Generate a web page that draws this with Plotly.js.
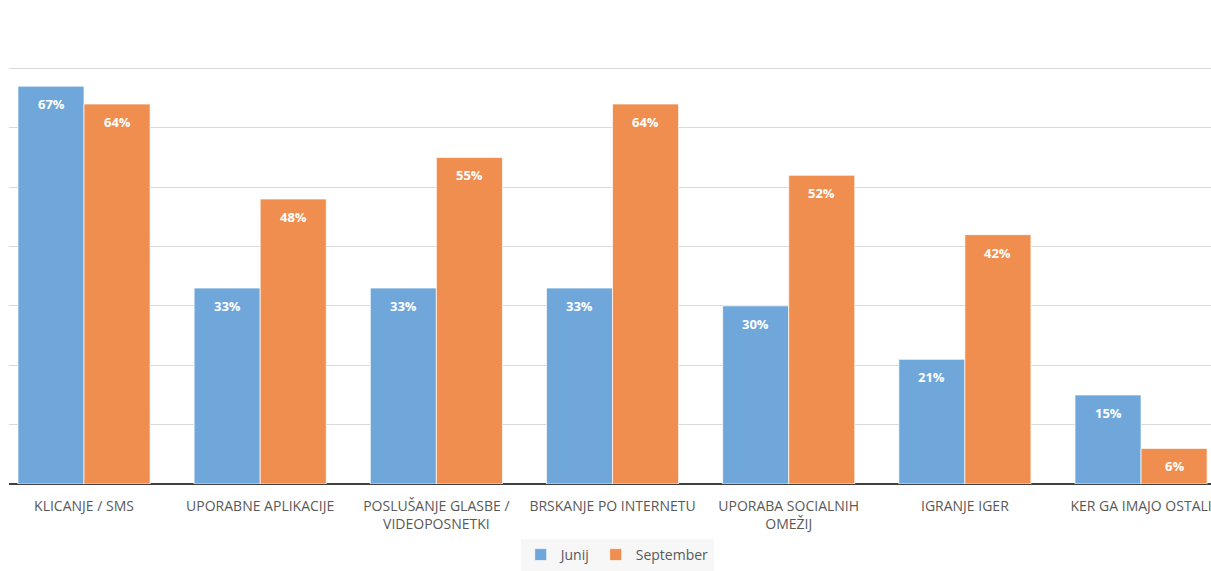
<!DOCTYPE html>
<html>
<head>
<meta charset="utf-8">
<script src="https://cdn.plot.ly/plotly-3.0.1.min.js"></script>
<style>html,body{margin:0;padding:0;background:#fff;}#chart{width:1211px;height:571px;}</style>
</head>
<body>
<div id="chart"></div>
<script>
const categories = ["KLICANJE / SMS", "UPORABNE APLIKACIJE", "POSLUŠANJE GLASBE /<br>VIDEOPOSNETKI", "BRSKANJE PO INTERNETU", "UPORABA SOCIALNIH<br>OMEŽIJ", "IGRANJE IGER", "KER GA IMAJO OSTALI"];
const junij = [67, 33, 33, 33, 30, 21, 15];
const september = [64, 48, 55, 64, 52, 42, 6];
const seriesNames = ["Junij", "September"];
const colors = ["#70a7da", "#ef8e4f"];

const traces = [junij, september].map((vals, i) => ({
  type: "bar",
  name: seriesNames[i],
  x: categories,
  y: vals,
  marker: {color: colors[i], line: {color: "rgba(255,255,255,0.7)", width: 1}},
  hoverinfo: "skip"
}));

const annotations = [];
[junij, september].forEach((vals, i) => {
  vals.forEach((v, j) => {
    annotations.push({
      x: categories[j], y: v, xref: "x", yref: "y",
      text: v + "%", showarrow: false,
      xshift: i === 0 ? -33 : 33, yshift: -18, yanchor: "middle",
      font: {family: "Open Sans", size: 13, color: "#ffffff", weight: "bold"}
    });
  });
});

const layout = {
  width: 1211, height: 571,
  margin: {l: 9, r: 0, t: 9, b: 87},
  paper_bgcolor: "#ffffff", plot_bgcolor: "#ffffff",
  barmode: "group", bargap: 0.25, bargroupgap: 0,
  font: {family: "Open Sans", size: 14, color: "#595959"},
  xaxis: {
    type: "category", range: [-0.4258, 6.397],
    showgrid: false, ticks: "", showline: false,
    tickfont: {family: "Open Sans", size: 14, color: "#595959"},
    ticklabelstandoff: 12, automargin: false,
    fixedrange: true
  },
  yaxis: {
    range: [0, 80], dtick: 10, showgrid: true, gridcolor: "#d9d9d9", gridwidth: 1,
    showticklabels: false, zeroline: true, zerolinecolor: "#404040", zerolinewidth: 2,
    automargin: false, fixedrange: true
  },
  showlegend: true,
  legend: {
    orientation: "h", x: 0.506, xanchor: "center", y: -0.1832, yanchor: "bottom",
    bgcolor: "#f7f7f7", font: {family: "Open Sans", size: 14, color: "#595959"},
    itemwidth: 30
  },
  annotations: annotations
};

Plotly.newPlot("chart", traces, layout, {displayModeBar: false, staticPlot: true});
</script>
</body>
</html>
